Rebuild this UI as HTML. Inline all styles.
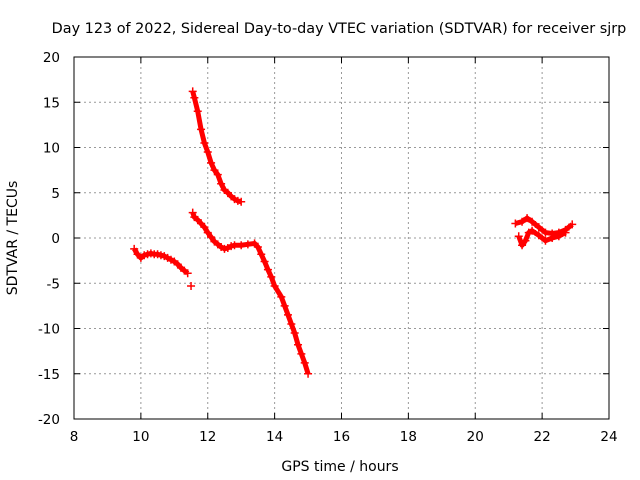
<!DOCTYPE html>
<html><head><meta charset="utf-8"><style>
body{margin:0;background:#fff;}
svg{display:block;font-family:"DejaVu Sans","Liberation Sans",sans-serif;}
</style></head><body>
<svg id="chart" width="640" height="480">
<text x="339" y="33" font-size="14.4" text-anchor="middle">Day 123 of 2022, Sidereal Day-to-day VTEC variation (SDTVAR) for receiver sjrp</text>
<text x="340" y="471" font-size="14" text-anchor="middle">GPS time / hours</text>
<text transform="translate(17,238) rotate(-90)" font-size="14" text-anchor="middle">SDTVAR / TECUs</text>
<g id="grid"></g><g id="marks"></g>
<rect x="74" y="57" width="535" height="362" fill="none" stroke="#000" stroke-width="1"/>
</svg>
<script>
const xTicks=[8,10,12,14,16,18,20,22,24];
const yTicks=[20,15,10,5,0,-5,-10,-15,-20];
const segA=[[9.8,-1.2],[9.9,-1.8],[10.0,-2.2],[10.1,-1.9],[10.2,-1.8],[10.3,-1.7],[10.4,-1.8],[10.5,-1.8],[10.6,-1.9],[10.7,-2.0],[10.8,-2.2],[10.9,-2.4],[11.0,-2.6],[11.1,-2.9],[11.2,-3.3],[11.3,-3.6],[11.4,-3.9]];
const segOutlier=[[11.5,-5.3]];
const segB=[[11.55,16.2],[11.6,15.5],[11.7,14],[11.8,12],[11.9,10.5],[12.0,9.5],[12.1,8.3],[12.2,7.5],[12.3,7],[12.4,6],[12.5,5.3],[12.6,5],[12.7,4.6],[12.8,4.3],[12.9,4.1],[13.0,4.0]];
const segC=[[11.55,2.8],[11.6,2.3],[11.7,2.0],[11.8,1.6],[11.9,1.2],[12.0,0.6],[12.1,0.1],[12.2,-0.4],[12.3,-0.7],[12.4,-1.0],[12.5,-1.2],[12.6,-1.1],[12.7,-0.9],[12.8,-0.8],[13.0,-0.8],[13.2,-0.7],[13.4,-0.6],[13.5,-1.0],[13.6,-1.8],[13.7,-2.6],[13.8,-3.5],[13.9,-4.3],[14.0,-5.3],[14.2,-6.5],[14.3,-7.5],[14.4,-8.5],[14.5,-9.5],[14.6,-10.5],[14.7,-11.8],[14.8,-12.8],[14.9,-13.8],[15.0,-15.0]];
const segD=[[21.2,1.6],[21.4,1.8],[21.55,2.2],[21.7,1.8],[21.9,1.2],[22.1,0.6],[22.3,0.5],[22.5,0.6],[22.7,0.9],[22.9,1.5]];
const segE=[[21.3,0.2],[21.4,-0.8],[21.5,-0.3],[21.6,0.6],[21.7,0.8],[21.9,0.3],[22.1,-0.3],[22.3,0.0],[22.5,0.2],[22.7,0.6]];
const X0=74,X1=609,Y0=57,Y1=419;
const sx=v=>X0+(v-8)/16*(X1-X0);
const sy=v=>Y0+(20-v)/40*(Y1-Y0);
const NS="http://www.w3.org/2000/svg";
const grid=document.getElementById('grid'),marks=document.getElementById('marks');
function mk(tag,attrs,parent){const e=document.createElementNS(NS,tag);for(const k in attrs)e.setAttribute(k,attrs[k]);parent.appendChild(e);return e;}
xTicks.forEach(t=>{const x=sx(t);
 if(t>8&&t<24){const l=mk('line',{x1:x,x2:x,y1:Y0,y2:Y1,stroke:'#999','stroke-dasharray':'2,3'},grid);
 
 }
 mk('line',{x1:x,x2:x,y1:Y1,y2:Y1-6,stroke:'#000'},grid);mk('line',{x1:x,x2:x,y1:Y0,y2:Y0+6,stroke:'#000'},grid);
 const tx=mk('text',{x:x,y:Y1+22,'font-size':13.5,'text-anchor':'middle'},grid);tx.textContent=t;
 
 });
yTicks.forEach(t=>{const y=sy(t);
 if(t>-20&&t<20){const l=mk('line',{x1:X0,x2:X1,y1:y,y2:y,stroke:'#999','stroke-dasharray':'2,3'},grid);
 
 }
 mk('line',{x1:X0,x2:X0+6,y1:y,y2:y,stroke:'#000'},grid);mk('line',{x1:X1,x2:X1-6,y1:y,y2:y,stroke:'#000'},grid);
 const tx=mk('text',{x:X0-14,y:y+5,'font-size':13.5,'text-anchor':'end'},grid);tx.textContent=t;
 
 });
[segA,segOutlier,segB,segC,segD,segE].forEach((s,i)=>{
 const g=mk('g',{},marks);
 
 
 if(s.length>1){mk('polyline',{points:s.map(p=>sx(p[0])+','+sy(p[1])).join(' '),fill:'none',stroke:'#f00','stroke-width':5,'stroke-linejoin':'round'},g);}
 s.forEach(p=>{const x=sx(p[0]),y=sy(p[1]);
  mk('path',{d:`M${x-4},${y}H${x+4}M${x},${y-4}V${y+4}`,stroke:'#f00','stroke-width':1.5},g);});
});
</script>
</body></html>
